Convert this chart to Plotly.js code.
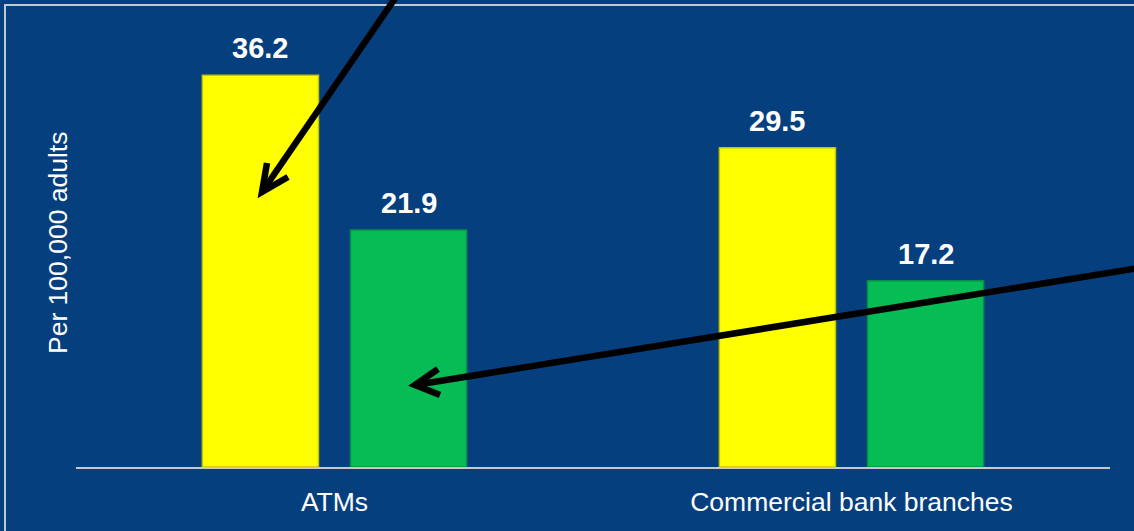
<!DOCTYPE html>
<html>
<head>
<meta charset="utf-8">
<script src="https://cdn.plot.ly/plotly-3.0.1.min.js"></script>
<style>html,body{margin:0;padding:0;background:#063f7e;}</style>
</head>
<body>
<div id="chart" style="width:1134px;height:531px;"></div>
<script>
// ---- data ----
const categories = ["ATMs", "Commercial bank branches"];
const seriesA = [36.2, 29.5];   // yellow
const seriesB = [21.9, 17.2];   // green
const yTitle = "Per 100,000 adults";

// ---- layout constants ----
const W = 1134, H = 531;
const M = {l: 76, r: 24, t: 34, b: 64};
const BARGAP = 0.427, GROUPGAP = 0.216;
const bg = "#063f7e";
const pw = W - M.l - M.r, ph = H - M.t - M.b;
const px = x => (x - M.l) / pw;
const py = y => (H - M.b - y) / ph;

// pixel offset of each bar's centre from category centre
const catW = pw / categories.length;
const slot = catW * (1 - BARGAP) / 2;
const offs = [-slot / 2, slot / 2];

const traces = [
  {type: "bar", x: categories, y: seriesA, name: "A",
   marker: {color: "#ffff00", line: {color: "#c4c400", width: 1.5}}, hoverinfo: "none"},
  {type: "bar", x: categories, y: seriesB, name: "B",
   marker: {color: "#06bc55", line: {color: "#05904a", width: 1.5}}, hoverinfo: "none"}
];

const annotations = [];
[seriesA, seriesB].forEach((s, si) => {
  s.forEach((v, i) => {
    annotations.push({
      x: categories[i], y: v, xref: "x", yref: "y",
      text: "<b>" + v.toFixed(1) + "</b>", showarrow: false,
      yanchor: "bottom", xanchor: "center", yshift: 9, xshift: offs[si],
      font: {family: "Liberation Sans, Arial, sans-serif", size: 29, color: "#ffffff"}
    });
  });
});
// y-axis title
annotations.push({
  xref: "paper", yref: "paper", x: px(58), y: py(243),
  text: yTitle, textangle: -90, showarrow: false,
  xanchor: "center", yanchor: "middle",
  font: {family: "Liberation Sans, Arial, sans-serif", size: 26.5, color: "#ffffff"}
});

function arrowPath(tail, tip, a1, a2) {
  const p = pt => px(pt[0]) + "," + py(pt[1]);
  return [
    {type: "path", xref: "paper", yref: "paper", layer: "above",
     path: "M" + p(tail) + " L" + p(tip), line: {color: "#000", width: 6.5}},
    {type: "path", xref: "paper", yref: "paper", layer: "above",
     path: "M" + p(a1) + " L" + p(tip) + " L" + p(a2), line: {color: "#000", width: 6.5}}
  ];
}

const shapes = [
  {type: "rect", xref: "paper", yref: "paper", layer: "below",
   x0: px(5), x1: px(1145), y0: py(5), y1: py(545),
   line: {color: "#c0c8d4", width: 2}, fillcolor: "rgba(0,0,0,0)"},
  ...arrowPath([398, -6], [262, 192], [267, 163], [288, 177]),
  ...arrowPath([1145, 267], [415, 385], [438, 369], [440, 395])
];

const layout = {
  width: W, height: H,
  margin: M,
  paper_bgcolor: bg, plot_bgcolor: bg,
  showlegend: false,
  barmode: "group", bargap: BARGAP, bargroupgap: GROUPGAP,
  font: {family: "Liberation Sans, Arial, sans-serif", color: "#ffffff"},
  xaxis: {
    showline: true, linecolor: "#c8c8c8", linewidth: 2, ticks: "",
    showgrid: false, zeroline: false,
    tickfont: {size: 26.5, color: "#ffffff"}, ticklabelstandoff: 10
  },
  yaxis: {
    range: [0, 40], showgrid: false, zeroline: false, showline: false,
    showticklabels: false, ticks: ""
  },
  annotations: annotations,
  shapes: shapes
};

Plotly.newPlot("chart", traces, layout, {displayModeBar: false, staticPlot: true});
</script>
</body>
</html>
